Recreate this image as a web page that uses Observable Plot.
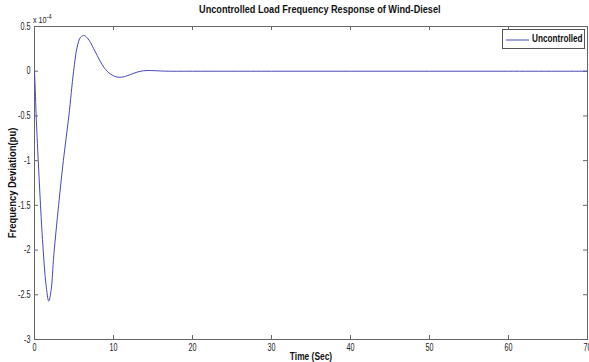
<!DOCTYPE html>
<html>
<head>
<meta charset="utf-8">
<script src="https://cdn.jsdelivr.net/npm/d3@7"></script>
<script src="https://cdn.jsdelivr.net/npm/@observablehq/plot@0.6"></script>
<style>
  html, body { margin: 0; padding: 0; background: #fff; }
  #wrap { position: relative; width: 589px; height: 362px; font-family: "Liberation Sans", Arial, sans-serif; }
  #title { height: 18px; line-height: 18px; font-size: 10.5px; font-weight: bold; text-align: center; padding-left: 50px; color: #111; }
  #title span { display: inline-block; transform: scaleX(0.87); }
  #exp { position: absolute; left: 33px; top: 13px; font-size: 9px; color: #222; transform: scaleX(0.8); transform-origin: left center; }
  #exp sup { font-size: 7px; }
  #legend { position: absolute; left: 502px; top: 29px; width: 81px; height: 18px; border: 1px solid #555; background: #fff; font-size: 10.5px; font-weight: bold; color: #111; }
  #legend svg { position: absolute; left: 3px; top: 9px; }
  #legend span { position: absolute; left: 29px; top: 2px; transform: scaleX(0.78); transform-origin: left center; white-space: nowrap; }
</style>
</head>
<body>
<div id="wrap">
  <div id="title"><span>Uncontrolled Load Frequency Response of Wind-Diesel</span></div>
  <div id="exp">x 10<sup>-4</sup></div>
  <div id="chart"></div>
  <div id="legend"><svg width="24" height="2"><line x1="0" x2="23" y1="1" y2="1" stroke="#4848bb" stroke-width="1"/></svg><span>Uncontrolled</span></div>
</div>
<script>
// Time (s)
const time = [0, 0.1, 0.21, 0.47, 0.76, 1.1, 1.45, 1.8, 2.1, 2.45, 3.05, 3.65, 4.35, 4.95, 5.4, 5.83, 6.3, 6.7, 7.1, 7.5, 7.94, 8.35, 8.78, 9.2, 9.6, 10.1, 10.7, 11.4, 12.2, 13.0, 13.8, 14.7, 15.6, 17, 20, 30, 40, 50, 60, 70];
// Frequency deviation (x 1e-4 pu)
const deviation = [0, -0.22, -0.5, -1.0, -1.5, -2.0, -2.38, -2.57, -2.45, -2.05, -1.5, -1.0, -0.5, 0.0, 0.27, 0.38, 0.40, 0.37, 0.32, 0.25, 0.175, 0.105, 0.045, 0.0, -0.03, -0.055, -0.068, -0.06, -0.035, -0.01, 0.005, 0.008, 0.004, 0, 0, 0, 0, 0, 0, 0];
const xTicks = [0, 10, 20, 30, 40, 50, 60, 70];
const yTicks = [-3, -2.5, -2, -1.5, -1, -0.5, 0, 0.5];

const data = time.map((t, i) => ({t, v: deviation[i]}));

const W = 589, H = 344, mT = 8, mB = 23, mL = 34, mR = 2;
const fh = H - mT - mB, fw = W - mL - mR;

const chart = Plot.plot({
  width: W, height: H,
  marginTop: mT, marginBottom: mB, marginLeft: mL, marginRight: mR,
  style: {fontFamily: '"Liberation Sans", Arial, sans-serif', fontSize: "10px", color: "#222", background: "#fff", overflow: "visible"},
  x: {domain: [0, 70]},
  y: {domain: [-3, 0.5]},
  marks: [
    Plot.frame({stroke: "#666"}),
    Plot.tickX(xTicks, {x: d => d, stroke: "#666", insetTop: fh - 4}),
    Plot.tickX(xTicks, {x: d => d, stroke: "#666", insetBottom: fh - 4}),
    Plot.tickY(yTicks, {y: d => d, stroke: "#666", insetRight: fw - 4}),
    Plot.tickY(yTicks, {y: d => d, stroke: "#666", insetLeft: fw - 4}),
    Plot.axisX(xTicks, {tickSize: 0, tickPadding: 4, tickFormat: d => String(d), label: "Time (Sec)", labelAnchor: "center", labelArrow: "none", labelOffset: 20}),
    Plot.axisY(yTicks, {tickSize: 0, tickPadding: 4, tickFormat: d => String(d), label: "Frequency Deviation(pu)", labelAnchor: "center", labelArrow: "none", labelOffset: 26}),
    Plot.line(data, {x: "t", y: "v", stroke: "#4848bb", strokeWidth: 1, curve: "catmull-rom"})
  ]
});
document.getElementById("chart").appendChild(chart);
const sel = d3.select(chart);
function squeeze(selector, k) {
  sel.selectAll(selector).each(function() {
    const t = this.getAttribute("transform") || "";
    const x = +this.getAttribute("x") || 0, y = +this.getAttribute("y") || 0;
    if (x || y) {
      this.setAttribute("transform", `${t} translate(${x},${y}) scale(${k},1)`);
      this.setAttribute("x", 0); this.setAttribute("y", 0);
    } else {
      this.setAttribute("transform", `${t} scale(${k},1)`);
    }
  });
}
sel.selectAll('g[aria-label="x-axis label"] text, g[aria-label="y-axis label"] text')
  .style("font-weight", "bold").style("font-size", "10.5px").style("fill", "#111");
squeeze('g[aria-label="x-axis tick label"] text, g[aria-label="y-axis tick label"] text', 0.72);
squeeze('g[aria-label="x-axis label"] text', 0.8);
squeeze('g[aria-label="y-axis label"] text', 0.9);
</script>
</body>
</html>
